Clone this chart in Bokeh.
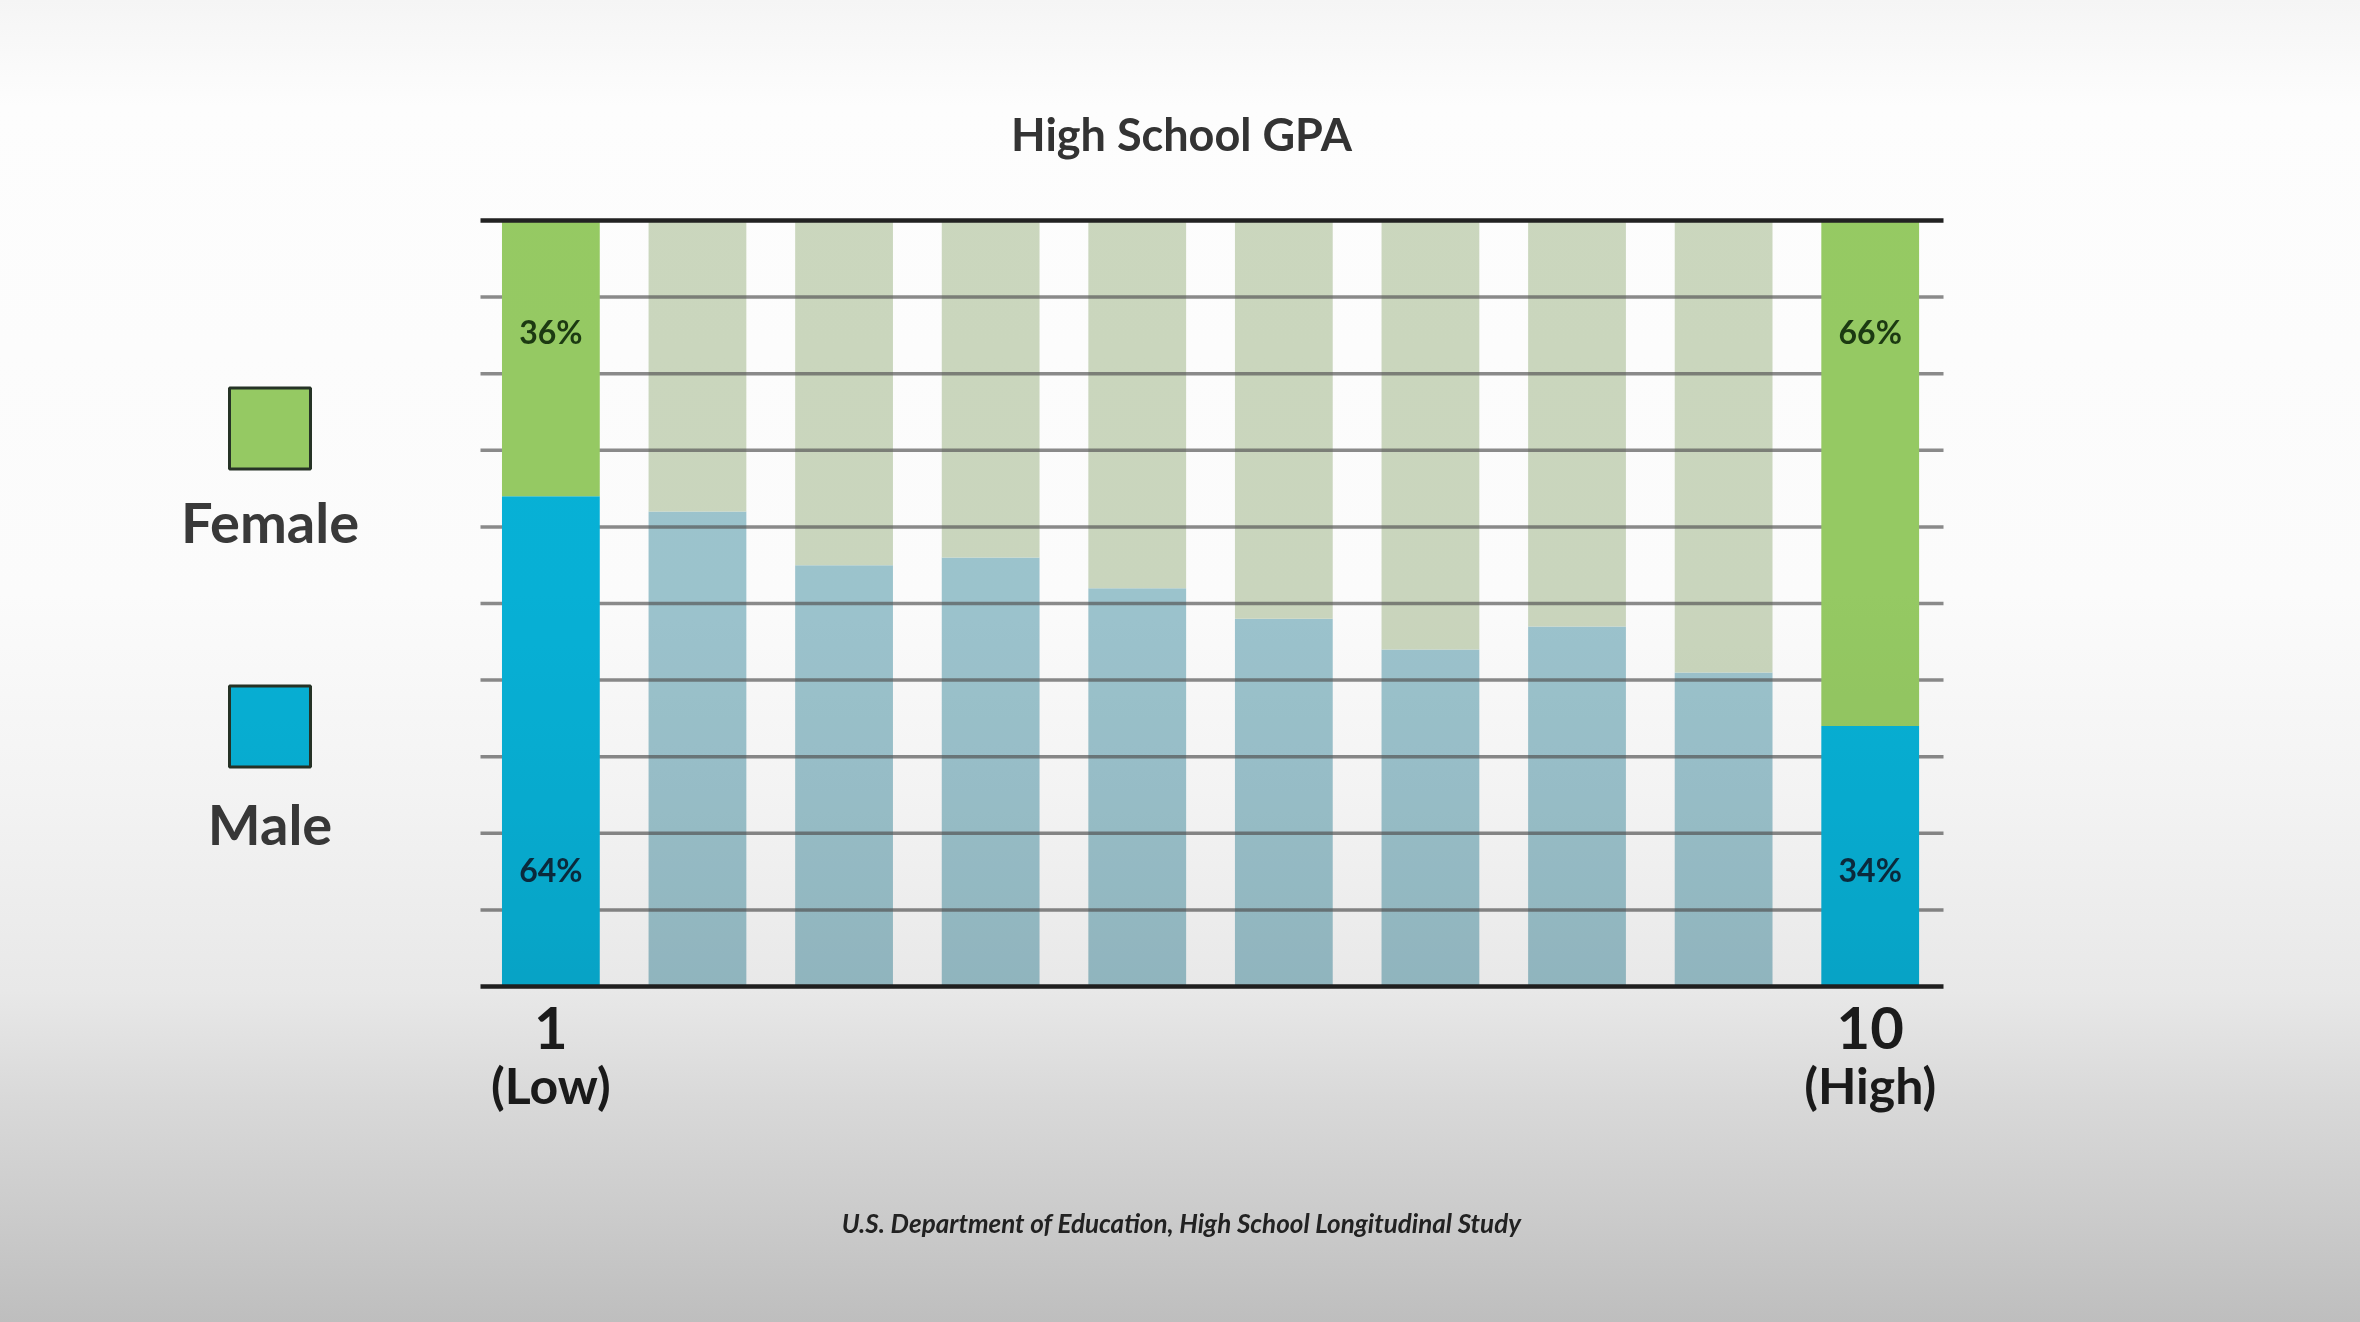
from bokeh.plotting import figure
from bokeh.models import (ColumnDataSource, LinearAxis, FixedTicker, Range1d, Label,
                          InlineStyleSheet)
from bokeh.core.properties import value
from bokeh.embed import file_html
from bokeh.resources import INLINE

# ---------------- data ----------------
gpa_deciles = [1, 2, 3, 4, 5, 6, 7, 8, 9, 10]
male_pct = [64, 62, 55, 56, 52, 48, 44, 47, 41, 34]
female_pct = [100 - m for m in male_pct]
highlighted = [True, False, False, False, False, False, False, False, False, True]
tick_values = [1, 10]
tick_labels = {1: "1", 10: "10"}
tick_sublabels = {1: "(Low)", 10: "(High)"}
grid_values = [10, 20, 30, 40, 50, 60, 70, 80, 90]
legend_labels = ["Female", "Male"]
title_text = "High School GPA"
source_text = "U.S. Department of Education, High School Longitudinal Study"

# ---------------- styles / layout ----------------
GREEN = "#97cc64"
BLUE = "#07b3d9"
GREEN_DIM = "#cdd9c0"
BLUE_DIM = "#9ec6d0"
FONT = "Lato"
TEXT = "#333333"
W, H = 2360, 1322
PLOT_X = (0.52, 10.5)          # horizontal extent of the chart area (data units)
BAR_W = 0.667


def subset(flag):
    idx = [i for i, h in enumerate(highlighted) if h == flag]
    return ColumnDataSource(dict(
        x=[gpa_deciles[i] for i in idx],
        male=[male_pct[i] for i in idx],
        female=[female_pct[i] for i in idx],
        total=[male_pct[i] + female_pct[i] for i in idx],
        zero=[0 for _ in idx],
    ))


src_dim = subset(False)
src_hi = subset(True)

# the frame covers the whole canvas; the chart area sits inside it
p = figure(width=W, height=H, output_backend="svg", toolbar_location=None,
           x_range=Range1d(-2.7544, 13.3446), y_range=Range1d(-43.864, 128.72),
           x_axis_location=None, y_axis_location=None,
           min_border_left=0, min_border_right=0, min_border_top=0, min_border_bottom=0,
           background_fill_color=None, border_fill_color=None,
           outline_line_color=None)
p.xgrid.visible = False
p.ygrid.visible = False

# dimmed bars
p.vbar(x="x", bottom="zero", top="male", width=BAR_W, source=src_dim,
       fill_color=BLUE_DIM, line_color=None)
p.vbar(x="x", bottom="male", top="total", width=BAR_W, source=src_dim,
       fill_color=GREEN_DIM, line_color=None)

# horizontal grid lines across the chart area
grid_src = ColumnDataSource(dict(y=grid_values,
                                 x0=[PLOT_X[0]] * len(grid_values),
                                 x1=[PLOT_X[1]] * len(grid_values)))
p.segment(x0="x0", x1="x1", y0="y", y1="y", source=grid_src,
          line_color="#555555", line_alpha=0.68, line_width=3.5)

# highlighted bars
p.vbar(x="x", bottom="zero", top="male", width=BAR_W, source=src_hi,
       fill_color=BLUE, line_color=None)
p.vbar(x="x", bottom="male", top="total", width=BAR_W, source=src_hi,
       fill_color=GREEN, line_color=None)

# percentage labels on highlighted bars
n_hi = len(src_hi.data["x"])
lab_src = ColumnDataSource(dict(
    x=src_hi.data["x"] + src_hi.data["x"],
    y=[85.5] * n_hi + [15.3] * n_hi,
    t=[f"{v}%" for v in src_hi.data["female"]] + [f"{v}%" for v in src_hi.data["male"]],
    c=["#1c3a12"] * n_hi + ["#0b2c40"] * n_hi,
))
p.text(x="x", y="y", text="t", source=lab_src, text_color="c",
       text_font=value(FONT), text_font_size="32px", text_font_style="bold",
       text_align="center", text_baseline="middle")

# axes: bottom (with tick labels) and top line, both fixed on the chart area
xa = LinearAxis(fixed_location=0, bounds=PLOT_X,
                ticker=FixedTicker(ticks=tick_values),
                major_label_overrides=tick_labels,
                major_tick_line_color=None, minor_tick_line_color=None,
                axis_line_color="#222222", axis_line_width=4.5,
                major_label_text_font=FONT, major_label_text_font_size="58px",
                major_label_text_font_style="bold", major_label_text_color="#1e1e1e",
                major_label_standoff=14)
p.add_layout(xa, "below")
top_axis = LinearAxis(fixed_location=100, bounds=PLOT_X,
                      ticker=FixedTicker(ticks=[]), axis_line_color="#222222",
                      axis_line_width=4.5, major_tick_line_color=None,
                      minor_tick_line_color=None, major_label_text_font_size="0px")
p.add_layout(top_axis, "above")

for xv, txt in tick_sublabels.items():
    p.add_layout(Label(x=xv, y=-12.9, text=txt, text_align="center",
                       text_baseline="middle", text_font=FONT,
                       text_font_size="50px", text_font_style="bold",
                       text_color="#1e1e1e"))

# legend (square above its label)
leg_src = ColumnDataSource(dict(x=[-0.916, -0.916], y=[72.85, 33.94],
                                c=[GREEN, BLUE], lbl=legend_labels))
p.scatter(x="x", y="y", source=leg_src, marker="square", size=81,
          fill_color="c", line_color="#263326", line_width=3)
for lbl, ty in zip(legend_labels, [60.70, 21.28]):
    p.add_layout(Label(x=-0.916, y=ty, text=lbl, text_align="center",
                       text_baseline="middle", text_font=FONT,
                       text_font_size="56px", text_font_style="bold",
                       text_color="#3a3a3a"))

# title and source
p.add_layout(Label(x=5.302, y=111.23, text=title_text, text_align="center",
                   text_baseline="middle", text_font=FONT, text_font_size="45px",
                   text_font_style="bold", text_color=TEXT))
p.add_layout(Label(x=5.302, y=-30.81, text=source_text, text_align="center",
                   text_baseline="middle", text_font=FONT, text_font_size="26px",
                   text_font_style="bold italic", text_color="#2a2a2a"))

# soft vignette like the original video frame
p.styles = {"background-color": "#ffffff"}
p.stylesheets = [InlineStyleSheet(css="""
:host { position: relative; }
:host::after {
  content: ""; position: absolute; left: 0; top: 0; right: 0; bottom: 0;
  pointer-events: none; mix-blend-mode: multiply; z-index: 10;
  background: linear-gradient(to bottom, #f5f5f5 0%, #fdfdfd 8%, #fbfbfb 45%,
              #f3f3f3 60%, #e8e8e8 75%, #d9d9d9 83%, #cbcbcb 92%, #bebebe 100%);
}
""")]

open("out.html", "w").write(file_html(p, INLINE))
